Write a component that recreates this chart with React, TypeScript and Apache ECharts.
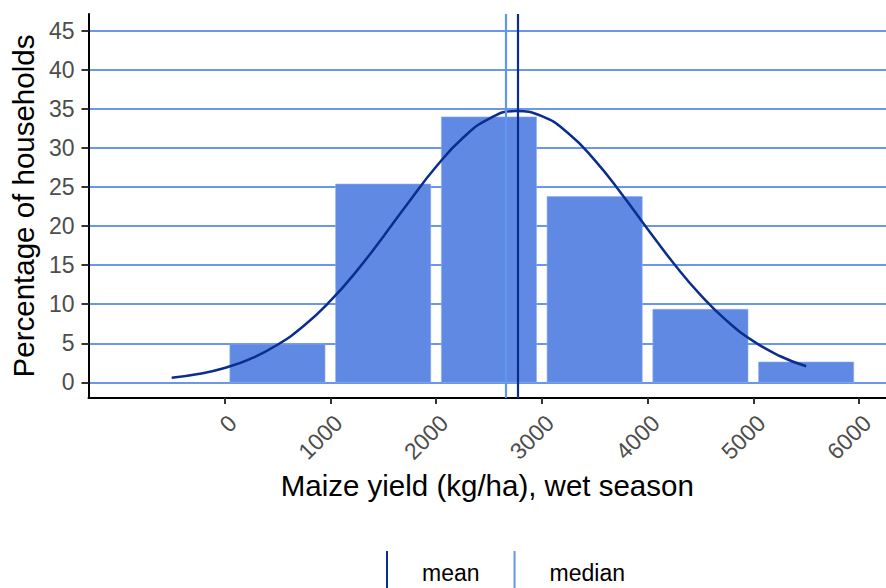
import React, { useEffect, useRef } from "react";
import * as echarts from "echarts";

const binStarts = [0, 1000, 2000, 3000, 4000, 5000];
const binEnds = [1000, 2000, 3000, 4000, 5000, 6000];
const percentages = [4.9, 25.4, 34.0, 23.8, 9.35, 2.6];

const curveX = [-500, -250, 0, 250, 500, 750, 1000, 1250, 1500, 1750, 2000, 2250, 2500, 2750, 3000, 3250, 3500, 3750, 4000, 4250, 4500, 4750, 5000, 5250, 5500];
const curveY = [0.58, 1.06, 1.84, 3.04, 4.81, 7.25, 10.42, 14.28, 18.66, 23.24, 27.61, 31.26, 33.75, 34.74, 34.1, 31.91, 28.47, 24.22, 19.64, 15.19, 11.2, 7.87, 5.28, 3.37, 2.05];

const meanYield = 2777;
const medianYield = 2658;

const xTicks = [0, 1000, 2000, 3000, 4000, 5000, 6000];
const yTicks = [0, 5, 10, 15, 20, 25, 30, 35, 40, 45];

const FONT = "'Liberation Sans', Arial, sans-serif";
const BAR = "#5F89E3";
const GRID = "#6A96EC";
const DARK = "#0B2D8E";
const LIGHT = "#6495ED";

export default function App() {
  const ref = useRef<HTMLDivElement>(null);
  useEffect(() => {
    if (!ref.current) return;
    const chart = echarts.init(ref.current, undefined, { renderer: "svg" });
    const bins = binStarts.map((s, i) => [s, binEnds[i], percentages[i]]);
    chart.setOption({
      animation: false,
      textStyle: { fontFamily: FONT },
      grid: { left: 87, right: 0, top: 14, bottom: 190, containLabel: false },
      legend: {
        data: ["mean", "median"],
        left: 381,
        top: 546,
        icon: "rect",
        itemWidth: 2,
        itemHeight: 44,
        itemGap: 34,
        selectedMode: false,
        textStyle: { fontSize: 23, color: "#000", fontFamily: FONT, padding: [0, 0, 0, 29] },
      },
      xAxis: {
        type: "value",
        min: -1287,
        max: 6255,
        name: "Maize yield (kg/ha), wet season",
        nameLocation: "middle",
        nameGap: 72,
        nameTextStyle: { fontSize: 29.5, color: "#000", fontFamily: FONT },
        axisLine: { show: true, onZero: false, lineStyle: { color: "#000", width: 2 } },
        axisTick: { show: true, length: 6, customValues: xTicks, lineStyle: { color: "#333", width: 2 } },
        axisLabel: {
          customValues: xTicks,
          rotate: 45,
          fontSize: 23,
          color: "#4D4D4D",
          margin: 13,
          align: "right",
          verticalAlign: "top",
          fontFamily: FONT,
          formatter: (v: number) => String(v),
        },
        splitLine: { show: false },
      },
      yAxis: {
        type: "value",
        min: -2.01,
        max: 47.18,
        name: "Percentage of households",
        nameLocation: "middle",
        nameGap: 50,
        nameTextStyle: { fontSize: 29.5, color: "#000", fontFamily: FONT },
        axisLine: { show: true, onZero: false, lineStyle: { color: "#000", width: 2 } },
        axisTick: { show: true, length: 7, customValues: yTicks, lineStyle: { color: "#333", width: 2 } },
        axisLabel: {
          customValues: yTicks,
          fontSize: 23,
          color: "#4D4D4D",
          margin: 14,
          fontFamily: FONT,
          formatter: (v: number) => String(v),
        },
        splitLine: { show: true, lineStyle: { color: GRID, width: 2 } },
      },
      series: [
        {
          name: "bins",
          type: "custom",
          data: bins,
          encode: { x: [0, 1], y: 2 },
          z: 2,
          renderItem: (params: any, api: any) => {
            const x0 = api.value(0);
            const x1 = api.value(1);
            const v = api.value(2);
            const pad = (x1 - x0) * 0.05;
            const p0 = api.coord([x0 + pad, v]);
            const p1 = api.coord([x1 - pad, 0]);
            return {
              type: "rect",
              shape: { x: p0[0], y: p0[1], width: p1[0] - p0[0], height: p1[1] - p0[1] },
              style: { fill: BAR, stroke: "#8FAEEE", lineWidth: 0.6 },
            };
          },
        },
        {
          name: "density",
          type: "line",
          data: curveX.map((x, i) => [x, curveY[i]]),
          smooth: true,
          showSymbol: false,
          z: 3,
          lineStyle: { color: DARK, width: 2.5 },
          itemStyle: { color: DARK },
        },
        {
          name: "median",
          type: "line",
          data: [],
          itemStyle: { color: LIGHT },
          lineStyle: { color: LIGHT },
          markLine: {
            silent: true,
            symbol: ["none", "none"],
            label: { show: false },
            lineStyle: { color: LIGHT, width: 2.2, type: "solid" },
            data: [{ xAxis: medianYield }],
          },
        },
        {
          name: "mean",
          type: "line",
          data: [],
          itemStyle: { color: DARK },
          lineStyle: { color: DARK },
          markLine: {
            silent: true,
            symbol: ["none", "none"],
            label: { show: false },
            lineStyle: { color: DARK, width: 2.2, type: "solid" },
            data: [{ xAxis: meanYield }],
          },
        },
      ],
    });
    return () => chart.dispose();
  }, []);
  return (
    <div
      ref={ref}
      style={{ position: "absolute", left: 0, top: 0, width: 886, height: 588, background: "#fff" }}
    />
  );
}
